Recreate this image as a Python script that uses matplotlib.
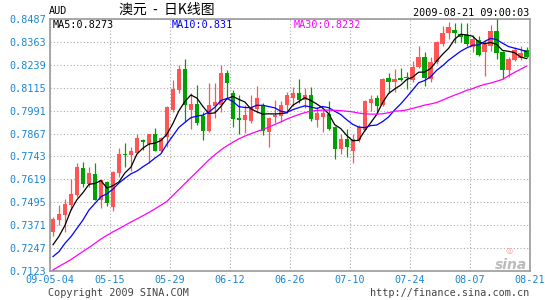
import numpy as np
import matplotlib
matplotlib.use("Agg")
from matplotlib import pyplot as plt

# AUD daily K line, 2009-05-04 .. 2009-08-21 (80 trading days)
opens = [.7336, .7399, .7426, .7480, .7534, .7682, .7594, .7648, .7509, .7606,
         .7471, .7655, .7756, .7750, .7763, .7831, .7813, .7867, .7774, .7849,
         .7994, .8102, .8215, .7994, .8026, .7961, .7882, .8017, .8021, .8197,
         .8087, .7949, .7940, .7936, .7999, .8017, .7876, .7954, .7961, .8021,
         .8057, .8087, .8051, .8075, .7940, .7958, .7972, .7904, .7783, .7839,
         .7774, .7831, .7885, .8033, .8060, .8021, .8168, .8147, .8167, .8171,
         .8155, .8226, .8283, .8164, .8253, .8354, .8413, .8427, .8408, .8399,
         .8333, .8374, .8306, .8342, .8422, .8311, .8213, .8267, .8278, .8321]
highs = [.7417, .7480, .7513, .7619, .7709, .7712, .7685, .7707, .7620, .7611,
         .7664, .7790, .7817, .7795, .7867, .7840, .7867, .7896, .7849, .8017,
         .8156, .8240, .8269, .8084, .8129, .7985, .8138, .8138, .8240, .8213,
         .8102, .8075, .8021, .8075, .8125, .8030, .7958, .8048, .8042, .8093,
         .8120, .8161, .8114, .8120, .8008, .7994, .8042, .7910, .7864, .7889,
         .7867, .7912, .8051, .8075, .8075, .8165, .8197, .8215, .8222, .8199,
         .8262, .8342, .8306, .8279, .8370, .8448, .8470, .8466, .8466, .8463,
         .8400, .8395, .8374, .8457, .8487, .8315, .8279, .8336, .8339, .8336]
lows = [.7314, .7372, .7336, .7453, .7525, .7579, .7579, .7505, .7466, .7476,
        .7449, .7633, .7685, .7666, .7756, .7777, .7705, .7774, .7768, .7795,
        .7985, .8084, .7930, .7894, .7912, .7831, .7875, .7949, .7985, .8057,
        .7904, .7867, .7869, .7922, .7979, .7858, .7792, .7922, .7930, .7976,
        .8015, .8030, .8003, .7934, .7904, .7876, .7885, .7727, .7756, .7741,
        .7705, .7822, .7880, .7988, .7976, .8017, .8089, .8093, .8149, .8110,
        .8146, .8221, .8124, .8146, .8244, .8342, .8377, .8359, .8363, .8342,
        .8310, .8285, .8176, .8315, .8270, .8160, .8173, .8258, .8265, .8275]
closes = [.7404, .7431, .7485, .7540, .7685, .7594, .7655, .7509, .7615, .7489,
          .7658, .7756, .7752, .7772, .7842, .7819, .7867, .7774, .7844, .8012,
          .8107, .8215, .8021, .8026, .7925, .7882, .8021, .8039, .8197, .8138,
          .7945, .7940, .7970, .8012, .8057, .7882, .7949, .7967, .8021, .8075,
          .8087, .8048, .8075, .7945, .7979, .7979, .7891, .7783, .7839, .7792,
          .7837, .7900, .8042, .8053, .8017, .8161, .8147, .8161, .8158, .8167,
          .8226, .8283, .8167, .8253, .8365, .8413, .8443, .8409, .8391, .8351,
          .8377, .8294, .8354, .8422, .8301, .8213, .8270, .8318, .8305, .8280]

ma5 = [.7265, .7311, .7370, .7453, .7509, .7547, .7592, .7597, .7612, .7572,
       .7585, .7605, .7654, .7685, .7756, .7788, .7810, .7815, .7829, .7863,
       .7921, .7990, .8040, .8076, .8059, .8014, .7975, .7979, .8013, .8055,
       .8068, .8052, .8038, .8001, .7985, .7972, .7974, .7973, .7975, .7979,
       .8020, .8040, .8061, .8046, .8027, .8005, .7974, .7915, .7894, .7857,
       .7828, .7830, .7882, .7925, .7970, .8035, .8084, .8108, .8129, .8159,
       .8172, .8199, .8200, .8219, .8259, .8296, .8328, .8377, .8404, .8401,
       .8394, .8364, .8353, .8360, .8350, .8317, .8312, .8305, .8281, .8273]
ma10 = [.7201, .7228, .7273, .7309, .7354, .7399, .7453, .7489, .7525, .7541,
        .7566, .7599, .7625, .7649, .7664, .7687, .7708, .7734, .7757, .7810,
        .7855, .7900, .7927, .7953, .7961, .7967, .7983, .8009, .8045, .8057,
        .8041, .8013, .8008, .8007, .8020, .8020, .8013, .8006, .7988, .7982,
        .7996, .8007, .8017, .8011, .8003, .8013, .8007, .7988, .7970, .7942,
        .7917, .7902, .7899, .7910, .7913, .7932, .7957, .7995, .8027, .8064,
        .8103, .8142, .8154, .8174, .8209, .8234, .8264, .8288, .8312, .8330,
        .8345, .8346, .8365, .8382, .8376, .8356, .8338, .8329, .8321, .8310]
ma30 = [.7129, .7148, .7166, .7185, .7207, .7229, .7250, .7273, .7296, .7316,
        .7335, .7352, .7370, .7388, .7405, .7422, .7440, .7459, .7479, .7500,
        .7532, .7564, .7596, .7628, .7660, .7692, .7724, .7752, .7778, .7800,
        .7820, .7838, .7853, .7866, .7878, .7889, .7902, .7916, .7930, .7945,
        .7958, .7970, .7980, .7988, .7992, .7994, .7994, .7993, .7991, .7988,
        .7984, .7978, .7974, .7972, .7972, .7974, .7980, .7988, .7990, .7995,
        .8003, .8012, .8021, .8027, .8035, .8048, .8062, .8075, .8087, .8101,
        .8110, .8123, .8133, .8140, .8150, .8160, .8180, .8198, .8215, .8232]

date_labels = ['09-05-04', '05-15', '05-29', '06-12', '06-26',
               '07-10', '07-24', '08-07', '08-21']
yticks = [.7123, .7247, .7371, .7495, .7619, .7743, .7867, .7991,
          .8115, .8239, .8363, .8487]

up_col = '#ff5555'
down_col = '#00a000'
label_col = '#1a86d4'

fig = plt.figure(figsize=(5.45, 3.0), dpi=100)
ax = fig.add_axes([50/545, 29/300, 479.5/545, 252/300])

o = np.array(opens)
c = np.array(closes)
x = np.arange(len(o)) + 0.5
cols = [up_col if cc >= oo else down_col for oo, cc in zip(o, c)]

ax.vlines(x, lows, highs, colors=cols, linewidth=0.9, zorder=3)
ax.bar(x, np.maximum(np.abs(c - o), 0.0003), bottom=np.minimum(o, c),
       width=0.72, color=cols, linewidth=0, zorder=3)

ax.plot(x, ma5, color='black', lw=0.9, zorder=4)
ax.plot(x, ma10, color='#0000ff', lw=0.9, zorder=4)
ax.plot(x, ma30, color='#ff00ff', lw=0.9, zorder=4)

ax.set_xlim(0, 80)
ax.set_ylim(yticks[0], yticks[-1])
ax.set_xticks(np.arange(0, 81, 10))
ax.set_xticklabels(date_labels)
ax.set_yticks(yticks)
ax.set_yticklabels(['%.4f' % v for v in yticks])
ax.tick_params(length=0, labelsize=7.3, labelcolor=label_col, pad=3)
for lab in ax.get_xticklabels() + ax.get_yticklabels():
    lab.set_family('DejaVu Sans Mono')
ax.grid(True, color='#aaaaaa', linestyle=(0, (1, 2)), linewidth=0.8)
ax.set_axisbelow(True)
for sp in ax.spines.values():
    sp.set_color('#999999')
    sp.set_linewidth(1.2)

mono = 'DejaVu Sans Mono'
fig.text(49/545, 1 - 11/300, 'AUD', fontsize=7.3, family=mono, va='center')
fig.text(167/545, 1 - 10/300, '澳元  -  日K线图', fontsize=10,
         family=['Noto Sans CJK SC', 'DejaVu Sans'], ha='center', va='center')
fig.text(529/545, 1 - 12.5/300, '2009-08-21 09:00:03', fontsize=7.3,
         family=mono, ha='right', va='center')
fig.text(53/545, 1 - 25/300, 'MA5:0.8273', fontsize=7.3, family=mono,
         va='center', color='black')
fig.text(172/545, 1 - 25/300, 'MA10:0.831', fontsize=7.3, family=mono,
         va='center', color='#0000ff')
fig.text(294/545, 1 - 25/300, 'MA30:0.8232', fontsize=7.3, family=mono,
         va='center', color='#ff00ff')
fig.text(48/545, 1 - 293/300, 'Copyright 2009 SINA.COM', fontsize=7.3,
         family=mono, va='center', color='#444444')
fig.text(529/545, 1 - 293/300, 'http://finance.sina.com.cn', fontsize=7.3,
         family=mono, ha='right', va='center', color='#444444')
# sina watermark
fig.text(527/545, 1 - 265/300, 'sina', fontsize=10, style='italic',
         weight='bold', ha='right', va='center', color='#bbbbbb')
fig.text(509/545, 1 - 251/300, '◎', fontsize=6, ha='center', va='center',
         color='#f5a0a0')

fig.savefig('out.png', dpi=100)
